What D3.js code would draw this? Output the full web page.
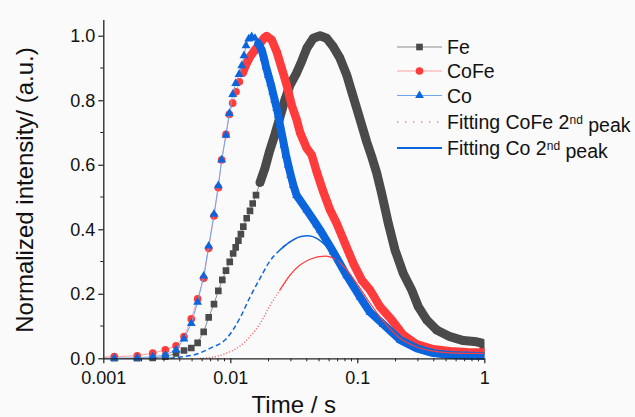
<!DOCTYPE html>
<html>
<head>
<meta charset="utf-8">
<script src="https://cdn.jsdelivr.net/npm/d3@7"></script>
<style>
  body { margin: 0; background: #fafafa; }
  text { font-family: "Liberation Sans", Arial, sans-serif; fill: #111; }
</style>
</head>
<body>
<div id="chart"></div>
<script>
// ---- data (time in s, normalized intensity) ----
var feTime = [0.00061, 0.00122, 0.00185, 0.00245, 0.00308, 0.00374, 0.00432, 0.00493, 0.00553, 0.00617, 0.00676,
  0.00744, 0.00805, 0.00865, 0.00925, 0.0099, 0.01053, 0.01103, 0.01158, 0.01212, 0.01266, 0.01346, 0.0143,
  0.01501, 0.01594, 0.01714, 0.01876, 0.0203, 0.0225, 0.02462, 0.02696, 0.02953, 0.0333, 0.0365, 0.0400,
  0.0450, 0.0509, 0.0574, 0.0647, 0.0731, 0.0826, 0.0904, 0.0989, 0.1083, 0.1186, 0.1298, 0.1421, 0.1556,
  0.1755, 0.1981, 0.2303, 0.268, 0.302, 0.352, 0.421, 0.537, 0.684, 0.871, 0.982, 1.0];
var feValue = [0.0, 0.0, 0.0, 0.001, 0.005, 0.015, 0.024, 0.032, 0.048, 0.082, 0.127,
  0.168, 0.209, 0.243, 0.272, 0.299, 0.325, 0.344, 0.365, 0.385, 0.408, 0.434, 0.457,
  0.480, 0.506, 0.545, 0.590, 0.640, 0.695, 0.748, 0.802, 0.847, 0.885, 0.921, 0.961,
  0.992, 1.0, 0.992, 0.966, 0.930, 0.878, 0.826, 0.775, 0.723, 0.671, 0.625, 0.575, 0.511,
  0.418, 0.336, 0.263, 0.212, 0.160, 0.119, 0.088, 0.067, 0.055, 0.051, 0.046, 0.026];

var cofeTime = [0.00061, 0.00122, 0.00185, 0.00245, 0.00308, 0.00374, 0.00432, 0.00493, 0.00553, 0.00617, 0.00676,
  0.00744, 0.00805, 0.00855, 0.00925, 0.00982, 0.01044, 0.0111, 0.01178, 0.01252, 0.0133, 0.0143, 0.01565,
  0.01714, 0.01853, 0.01935, 0.0212, 0.0232, 0.0254, 0.0278, 0.0304, 0.0333, 0.0354, 0.0400, 0.0438, 0.0479,
  0.0540, 0.0610, 0.0688, 0.0800, 0.0931, 0.1083, 0.1259, 0.1509, 0.1866, 0.2303, 0.294, 0.396, 0.537,
  0.727, 1.0];
var cofeValue = [0.002, 0.005, 0.008, 0.016, 0.026, 0.039, 0.067, 0.122, 0.184, 0.248, 0.341,
  0.441, 0.529, 0.615, 0.694, 0.756, 0.791, 0.826, 0.857, 0.885, 0.911, 0.935, 0.956,
  0.976, 0.994, 0.999, 0.987, 0.950, 0.899, 0.847, 0.785, 0.740, 0.700, 0.651, 0.630, 0.578,
  0.516, 0.460, 0.418, 0.356, 0.294, 0.243, 0.212, 0.160, 0.119, 0.072, 0.043, 0.028, 0.022,
  0.019, 0.018];

var coTime = [0.00061, 0.00122, 0.00185, 0.00245, 0.00308, 0.00374, 0.00432, 0.00493, 0.00553, 0.00617, 0.00676,
  0.00744, 0.00805, 0.00855, 0.00925, 0.00982, 0.01044, 0.01103, 0.01171, 0.0123, 0.01282, 0.0133, 0.01396,
  0.01474, 0.01565, 0.01662, 0.01767, 0.01843, 0.0191, 0.01992, 0.0208, 0.02158, 0.02237, 0.0232, 0.02388,
  0.02462, 0.02554, 0.02648, 0.02746, 0.02862, 0.0299, 0.03135, 0.0333, 0.0400, 0.0479, 0.0509, 0.0647,
  0.0826, 0.1050, 0.1259, 0.1603, 0.2169, 0.294, 0.396, 0.537, 0.727, 1.0];
var coValue = [0.0, 0.0, 0.001, 0.005, 0.010, 0.026, 0.060, 0.108, 0.174, 0.255, 0.348,
  0.447, 0.535, 0.615, 0.692, 0.759, 0.818, 0.852, 0.880, 0.907, 0.938, 0.969, 0.990,
  0.997, 0.992, 0.976, 0.956, 0.930, 0.904, 0.878, 0.852, 0.826, 0.801, 0.775, 0.754,
  0.723, 0.692, 0.661, 0.630, 0.599, 0.568, 0.537, 0.505, 0.460, 0.414, 0.398, 0.330,
  0.256, 0.190, 0.143, 0.105, 0.057, 0.031, 0.016, 0.010, 0.008, 0.007];

// fitted second peaks
var fitCofeTime = [0.00577, 0.00692, 0.00937, 0.01192, 0.0143, 0.01714, 0.0203, 0.02462, 0.02953, 0.0354,
  0.0424, 0.0557, 0.0688, 0.0826, 0.0989, 0.1186, 0.1603, 0.2169, 0.294, 0.396, 0.537, 1.0];
var fitCofeValue = [0.0, 0.002, 0.016, 0.038, 0.067, 0.108, 0.160, 0.212, 0.258, 0.289,
  0.307, 0.317, 0.305, 0.274, 0.232, 0.186, 0.115, 0.062, 0.035, 0.022, 0.017, 0.015];

var fitCoTime = [0.00335, 0.00427, 0.00511, 0.00692, 0.00937, 0.01192, 0.0143, 0.01714, 0.0203, 0.02462,
  0.02953, 0.0354, 0.0411, 0.0479, 0.0574, 0.0688, 0.0826, 0.0989, 0.1186, 0.1603, 0.2169, 0.294, 0.396,
  0.537, 1.0];
var fitCoValue = [0.0, 0.005, 0.010, 0.031, 0.062, 0.125, 0.190, 0.248, 0.299, 0.336,
  0.361, 0.377, 0.380, 0.372, 0.346, 0.305, 0.253, 0.201, 0.155, 0.095, 0.050, 0.024, 0.011,
  0.005, 0.002];

var xTicks = [0.001, 0.01, 0.1, 1];
var xTickLabels = ["0.001", "0.01", "0.1", "1"];
var yTicks = [0, 0.2, 0.4, 0.6, 0.8, 1.0];
var yMinorTicks = [0.1, 0.3, 0.5, 0.7, 0.9];
var legendLabels = ["Fe", "CoFe", "Co", "Fitting CoFe 2", "Fitting Co 2"];

var svgWidth = 635;
var svgHeight = 417;

var svg = d3.select("#chart")
  .append("svg")
  .attr("width", svgWidth)
  .attr("height", svgHeight);

svg.append("rect")
  .attr("width", svgWidth)
  .attr("height", svgHeight)
  .attr("fill", "#fafafa");

// scales
var x = d3.scaleLog().domain([0.001, 1]).range([103.3, 484.3]);
var y = d3.scaleLinear().domain([0, 1.05]).range([358.3, 19.6]);

// clip everything to the x range of the frame
svg.append("clipPath")
  .attr("id", "clip")
  .append("rect")
  .attr("x", x(0.001))
  .attr("y", 0)
  .attr("width", x(1) - x(0.001))
  .attr("height", svgHeight);

function zip(t, v) {
  return t.map(function (d, i) { return { t: d, v: v[i] }; });
}

var series = [
  { name: "Fe", data: zip(feTime, feValue), color: "#4a4a4a", line: "#8c8c8c",
    symbol: d3.symbolSquare, size: 44, band: 0.016, bandWidth: 9 },
  { name: "CoFe", data: zip(cofeTime, cofeValue), color: "#ff3b3b", line: "#ffa0a0",
    symbol: d3.symbolCircle, size: 46, band: 0.0125, bandWidth: 8.5 },
  { name: "Co", data: zip(coTime, coValue), color: "#0b65dd", line: "#6fa6ee",
    symbol: d3.symbolTriangle, size: 34, band: 0.0165, bandWidth: 8 }
];

var line = d3.line()
  .x(function (d) { return x(d.t); })
  .y(function (d) { return y(d.v); });

var plot = svg.append("g").attr("clip-path", "url(#clip)");

series.forEach(function (s) {
  var g = plot.append("g");
  // thin connecting line
  g.append("path")
    .datum(s.data)
    .attr("d", line)
    .attr("fill", "none")
    .attr("stroke", s.line)
    .attr("stroke-width", 1);
  // where points pile up they look like a thick band
  g.append("path")
    .datum(s.data.filter(function (d) { return d.t >= s.band; }))
    .attr("d", line)
    .attr("fill", "none")
    .attr("stroke", s.color)
    .attr("stroke-width", s.bandWidth)
    .attr("stroke-linejoin", "round")
    .attr("stroke-linecap", "round");
  g.selectAll(".pt")
    .data(s.data.filter(function (d) { return d.t >= 0.001; }))
    .enter()
    .append("path")
    .attr("d", d3.symbol().type(s.symbol).size(s.size))
    .attr("transform", function (d) { return "translate(" + x(d.t) + "," + y(d.v) + ")"; })
    .attr("fill", s.color);
});

// fitted curves: broken at the low-t end, continuous after
var fitSplit = 0.024;
var fits = [
  { data: zip(fitCofeTime, fitCofeValue), color: "#ff3b3b", width: 1.2, dash: "1,2" },
  { data: zip(fitCoTime, fitCoValue), color: "#0b65dd", width: 1.5, dash: "5,3" }
];

fits.forEach(function (f) {
  plot.append("path")
    .datum(f.data.filter(function (d) { return d.t <= fitSplit * 1.25; }))
    .attr("d", line.curve(d3.curveMonotoneX))
    .attr("fill", "none")
    .attr("stroke", f.color)
    .attr("stroke-width", f.width)
    .attr("stroke-dasharray", f.dash);
  plot.append("path")
    .datum(f.data.filter(function (d) { return d.t >= fitSplit; }))
    .attr("d", line.curve(d3.curveMonotoneX))
    .attr("fill", "none")
    .attr("stroke", f.color)
    .attr("stroke-width", f.width);
});

// axes
var xAxis = d3.axisBottom(x)
  .tickValues(xTicks)
  .tickFormat(function (d, i) { return xTickLabels[i]; })
  .tickSize(5)
  .tickSizeOuter(0)
  .tickPadding(8);

var xMinor = [];
[0.001, 0.01, 0.1].forEach(function (dec) {
  for (var k = 2; k <= 9; k++) xMinor.push(dec * k);
});

var gx = svg.append("g")
  .attr("transform", "translate(0," + y(0) + ")")
  .call(xAxis);
gx.selectAll(".tick.minor")
  .data(xMinor)
  .enter()
  .append("line")
  .attr("x1", function (d) { return x(d); })
  .attr("x2", function (d) { return x(d); })
  .attr("y2", 3)
  .attr("stroke", "#222");

var yAxis = d3.axisLeft(y)
  .tickValues(yTicks)
  .tickFormat(d3.format(".1f"))
  .tickSize(5)
  .tickSizeOuter(0)
  .tickPadding(3);

var gy = svg.append("g")
  .attr("transform", "translate(" + x(0.001) + ",0)")
  .call(yAxis);
gy.selectAll(".tick.minor")
  .data(yMinorTicks)
  .enter()
  .append("line")
  .attr("y1", function (d) { return y(d); })
  .attr("y2", function (d) { return y(d); })
  .attr("x2", -3)
  .attr("stroke", "#222");

[gx, gy].forEach(function (g) {
  g.select(".domain").attr("stroke", "#222").attr("stroke-width", 1.3);
  g.selectAll(".tick line").attr("stroke", "#222").attr("stroke-width", 1.2);
  g.selectAll("text")
    .style("font-family", "Liberation Sans, Arial, sans-serif")
    .style("font-size", "18px")
    .attr("fill", "#111");
});

// axis titles
svg.append("text")
  .attr("x", (x(0.001) + x(1)) / 2)
  .attr("y", 413)
  .attr("text-anchor", "middle")
  .style("font-size", "24px")
  .text("Time / s");

svg.append("text")
  .attr("transform", "translate(33," + 190 + ") rotate(-90)")
  .attr("text-anchor", "middle")
  .style("font-size", "24px")
  .text("Normalized intensity/ (a.u.)");

// legend
var legend = svg.append("g").attr("transform", "translate(397,0)");
var rowY = [47, 71, 95.5, 122, 148];

series.forEach(function (s, i) {
  legend.append("line")
    .attr("x1", 0).attr("x2", 45)
    .attr("y1", rowY[i]).attr("y2", rowY[i])
    .attr("stroke", s.line)
    .attr("stroke-width", 1.2);
  legend.append("path")
    .attr("d", d3.symbol().type(s.symbol).size(s.size))
    .attr("transform", "translate(22.5," + rowY[i] + ")")
    .attr("fill", s.color);
});

legend.append("line")
  .attr("x1", 0).attr("x2", 45)
  .attr("y1", rowY[3]).attr("y2", rowY[3])
  .attr("stroke", "#ff3b3b")
  .attr("stroke-width", 1.2)
  .attr("stroke-dasharray", "1.3,6.7");
legend.append("line")
  .attr("x1", 0).attr("x2", 45)
  .attr("y1", rowY[4]).attr("y2", rowY[4])
  .attr("stroke", "#0b65dd")
  .attr("stroke-width", 2);

legendLabels.forEach(function (lab, i) {
  var t = legend.append("text")
    .attr("x", 50)
    .attr("y", rowY[i])
    .attr("dy", "0.36em")
    .style("font-size", "19.5px")
    .text(lab);
  if (i >= 3) {
    t.append("tspan")
      .attr("dy", "-0.45em")
      .style("font-size", "12px")
      .text("nd");
    t.append("tspan")
      .attr("dy", "0.45em")
      .text(" peak");
  }
});
</script>
</body>
</html>
